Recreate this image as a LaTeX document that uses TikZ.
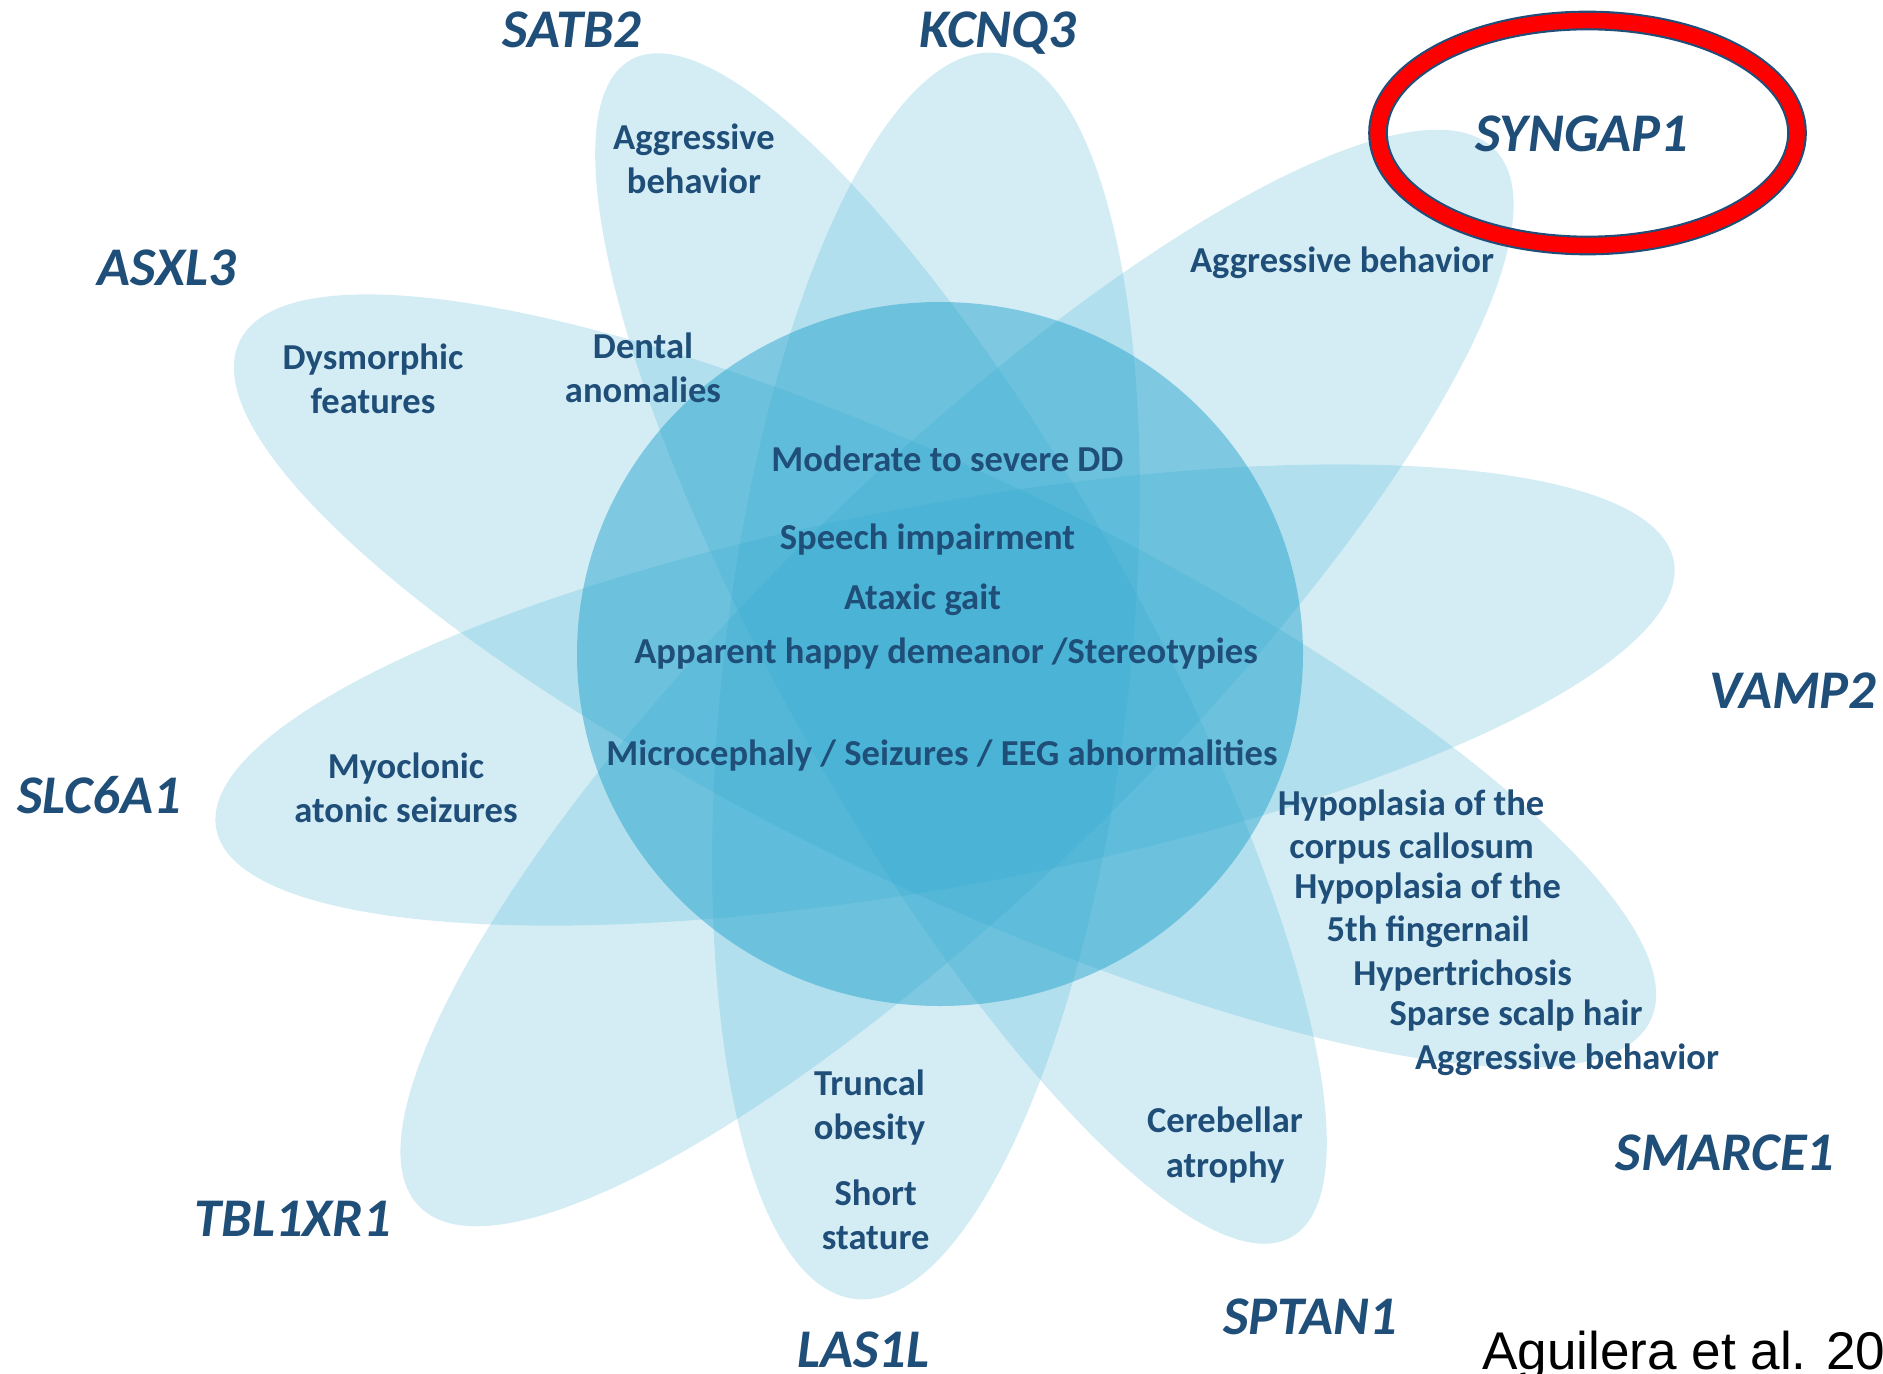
\documentclass[tikz,border=0pt]{standalone}
\usepackage{fontspec}
\setmainfont{Carlito}
\newfontfamily\citefont{Liberation Sans}
\definecolor{petalblue}{RGB}{40,165,205}
\definecolor{darkblue}{RGB}{31,78,121}

\begin{document}
\begin{tikzpicture}[
    petal/.style={fill=petalblue,fill opacity=0.2},
    gene/.style={anchor=base,darkblue,font=\fontsize{15.5}{18}\selectfont\bfseries\itshape},
    trait/.style={darkblue,align=center,font=\fontsize{10.4}{12.6}\selectfont\bfseries},
    traitline/.style={trait,anchor=base}]

\useasboundingbox (0,0) rectangle (18.83,13.73);

% petals, one for each pair of genes
\fill [petal,rotate around={83.5:(9.26,6.97)}] (9.26,6.97) ellipse (6.27 and 2.03);
\fill [petal,rotate around={-60.7:(9.61,7.245)}] (9.61,7.245) ellipse (6.75 and 1.80);
\fill [petal,rotate around={-25.7:(9.45,6.92)}] (9.45,6.92) ellipse (7.83 and 2.05);
\fill [petal,rotate around={10.4:(9.45,6.78)}] (9.45,6.78) ellipse (7.41 and 1.91);
\fill [petal,rotate around={44.5:(9.57,6.95)}] (9.57,6.95) ellipse (7.54 and 2.04);

% the core
\fill [petalblue,fill opacity=0.5] (9.40,7.19) ellipse (3.63 and 3.52);

% ring round SYNGAP1
\draw [darkblue,line width=5.6pt] (15.875,12.40) ellipse (2.095 and 1.125);
\draw [red,line width=4.4pt] (15.875,12.40) ellipse (2.095 and 1.125);

% genes
\node [gene] (satb2) at (5.72,13.25) {SATB2};
\node [gene] (kcnq3) at (9.975,13.25) {KCNQ3};
\node [gene] (syngap1) at (15.82,12.21) {SYNGAP1};
\node [gene] (asxl3) at (1.67,10.87) {ASXL3};
\node [gene] (vamp2) at (17.93,6.645) {VAMP2};
\node [gene] (slc6a1) at (0.99,5.60) {SLC6A1};
\node [gene] (smarce1) at (17.25,2.03) {SMARCE1};
\node [gene] (tbl1xr1) at (2.93,1.37) {TBL1XR1};
\node [gene] (las1l) at (8.635,0.06) {LAS1L};
\node [gene] (sptan1) at (13.10,0.385) {SPTAN1};

% shared features
\node [traitline] (dd) at (9.475,9.02) {Moderate to severe DD};
\node [traitline] (speech) at (9.275,8.24) {Speech impairment};
\node [traitline] (gait) at (9.225,7.64) {Ataxic gait};
\node [traitline] (happy) at (9.46,7.10) {Apparent happy demeanor /Stereotypies};
\node [traitline] (micro) at (9.42,6.08) {Microcephaly / Seizures / EEG abnormalities};

% features of one gene
\node [trait] (aggrsatb2) at (6.94,12.14) {Aggressive\\behavior};
\node [trait] (dental) at (6.43,10.05) {Dental\\anomalies};
\node [trait] (dysmorph) at (3.73,9.94) {Dysmorphic\\features};
\node [traitline] (aggrsyngap1) at (13.42,11.01) {Aggressive behavior};
\node [trait] (myoclonic) at (4.06,5.85) {Myoclonic\\atonic seizures};
\node [trait] (truncal) at (8.695,2.655) {Truncal\\obesity};
\node [trait] (short) at (8.757,1.58) {Short\\stature};
\node [trait] (cerebellar) at (12.25,2.28) {Cerebellar\\atrophy};

% SMARCE1 list
\node [traitline] (callosum1) at (14.11,5.58) {Hypoplasia of the};
\node [traitline] (callosum2) at (14.116,5.15) {corpus callosum};
\node [traitline] (nail1) at (14.276,4.745) {Hypoplasia of the};
\node [traitline] (nail2) at (14.28,4.32) {5th fingernail};
\node [traitline] (hypertrich) at (14.626,3.88) {Hypertrichosis};
\node [traitline] (scalp) at (15.16,3.474) {Sparse scalp hair};
\node [traitline] (aggrsmarce1) at (15.67,3.04) {Aggressive behavior};

% citation
\node [anchor=base west,inner sep=0pt,font=\citefont\fontsize{15.1}{18}\selectfont] (cite) at (14.815,0.035) {Aguilera et al. 2019};

\end{tikzpicture}
\end{document}
